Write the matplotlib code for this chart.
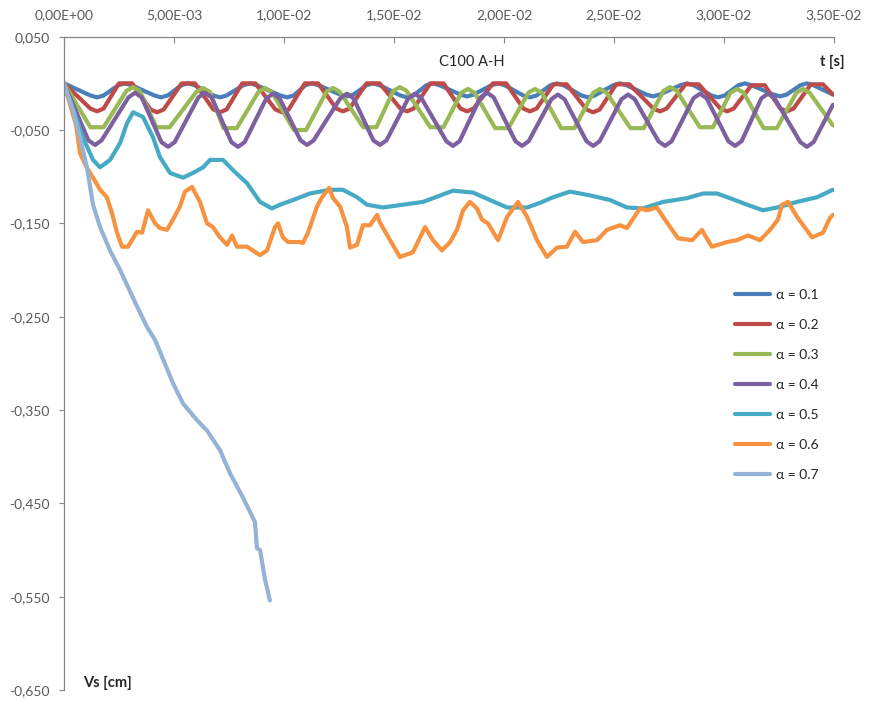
#!/usr/bin/env python3
"""
Settlement history Vs(t) for the C100 A-H case, one curve per alpha value
"""

import numpy as np
import matplotlib
matplotlib.use("Agg")
import matplotlib.pyplot as plt
from matplotlib.ticker import FuncFormatter

# time in ms, settlement in cm
t_01 = [0,
        1.20, 1.50, 1.80, 2.47, 2.77, 3.07, 4.11, 4.41, 4.71, 5.34, 5.64, 5.94,
        6.79, 7.09, 7.39, 8.15, 8.45, 8.75, 9.84, 10.14, 10.44, 10.97, 11.27, 11.57,
        12.56, 12.86, 13.16, 13.75, 14.05, 14.35, 15.29, 15.59, 15.89, 16.47, 16.77, 17.07,
        18.02, 18.32, 18.62, 19.43, 19.73, 20.03, 20.88, 21.18, 21.48, 22.11, 22.41, 22.71,
        23.52, 23.82, 24.12, 24.97, 25.27, 25.57, 26.47, 26.77, 27.07, 28.02, 28.32, 28.62,
        29.43, 29.73, 30.03, 30.65, 30.95, 31.25, 32.25, 32.55, 32.85, 33.47, 33.77, 34.07,
        34.95]
vs_01 = [0,
         -0.013, -0.015, -0.013, -0.002, 0, -0.002, -0.013, -0.015, -0.013, -0.002, 0, -0.002,
         -0.013, -0.015, -0.013, -0.002, 0, -0.002, -0.013, -0.015, -0.013, -0.002, 0, -0.002,
         -0.012, -0.014, -0.012, -0.002, 0, -0.002, -0.013, -0.015, -0.013, -0.002, 0, -0.002,
         -0.012, -0.014, -0.012, -0.002, 0, -0.002, -0.013, -0.015, -0.013, -0.002, 0, -0.002,
         -0.013, -0.015, -0.013, -0.002, 0, -0.002, -0.012, -0.014, -0.012, -0.002, 0, -0.002,
         -0.013, -0.015, -0.013, -0.002, 0, -0.002, -0.012, -0.014, -0.012, -0.002, 0, -0.002,
         -0.012]

t_02 = [0,
        1.20, 1.50, 1.80, 2.50, 3.10,
        3.93, 4.23, 4.53, 5.35, 5.95,
        6.79, 7.09, 7.39, 8.10, 8.70,
        9.61, 9.91, 10.21, 10.95, 11.55,
        12.38, 12.68, 12.98, 13.75, 14.35,
        15.29, 15.59, 15.89, 16.65, 17.25,
        18.02, 18.32, 18.62, 19.50, 20.10,
        20.88, 21.18, 21.48, 22.25, 22.85,
        23.75, 24.05, 24.35, 25.10, 25.70,
        26.79, 27.09, 27.39, 28.25, 28.85,
        29.84, 30.14, 30.44, 31.25, 31.85,
        32.56, 32.86, 33.16, 33.95, 34.50,
        34.95]
vs_02 = [0,
         -0.027, -0.030, -0.027, 0, 0,
         -0.028, -0.031, -0.028, 0, 0,
         -0.028, -0.031, -0.028, 0, 0,
         -0.028, -0.031, -0.028, 0, 0,
         -0.027, -0.030, -0.027, 0, 0,
         -0.027, -0.030, -0.027, 0, 0,
         -0.027, -0.030, -0.027, 0, 0,
         -0.027, -0.030, -0.027, -0.001, -0.001,
         -0.028, -0.031, -0.028, -0.001, -0.001,
         -0.027, -0.030, -0.027, -0.001, -0.001,
         -0.027, -0.030, -0.027, -0.002, -0.002,
         -0.027, -0.030, -0.027, -0.001, -0.001,
         -0.012]

t_03 = [0,
        1.20, 1.80, 2.84, 3.14, 3.44,
        4.20, 4.80, 6.02, 6.32, 6.62,
        7.25, 7.85, 8.84, 9.14, 9.44,
        10.45, 11.00, 11.93, 12.23, 12.53,
        13.60, 14.20, 14.97, 15.27, 15.57,
        16.65, 17.25, 18.06, 18.36, 18.66,
        19.60, 20.20, 21.11, 21.41, 21.71,
        22.60, 23.20, 24.06, 24.36, 24.66,
        25.75, 26.35, 27.25, 27.55, 27.85,
        28.90, 29.50, 30.29, 30.59, 30.89,
        31.80, 32.40, 33.29, 33.59, 33.89,
        34.95]
vs_03 = [0,
         -0.047, -0.047, -0.008, -0.004, -0.008,
         -0.047, -0.047, -0.009, -0.005, -0.009,
         -0.048, -0.048, -0.009, -0.005, -0.009,
         -0.050, -0.050, -0.009, -0.005, -0.009,
         -0.047, -0.047, -0.008, -0.004, -0.008,
         -0.047, -0.047, -0.010, -0.006, -0.010,
         -0.048, -0.048, -0.010, -0.006, -0.010,
         -0.048, -0.048, -0.010, -0.006, -0.010,
         -0.048, -0.048, -0.008, -0.004, -0.008,
         -0.047, -0.047, -0.010, -0.006, -0.010,
         -0.048, -0.048, -0.010, -0.006, -0.010,
         -0.045]

t_04 = [0,
        1.11, 1.41, 1.71, 2.93, 3.23, 3.53,
        4.43, 4.73, 5.03, 6.11, 6.41, 6.71,
        7.61, 7.91, 8.21, 9.20, 9.50, 9.80,
        10.75, 11.05, 11.35, 12.56, 12.86, 13.16,
        14.06, 14.36, 14.66, 15.65, 15.95, 16.25,
        17.38, 17.68, 17.98, 18.93, 19.23, 19.53,
        20.52, 20.82, 21.12, 22.15, 22.45, 22.75,
        23.75, 24.05, 24.35, 25.34, 25.64, 25.94,
        27.02, 27.32, 27.62, 28.61, 28.91, 29.21,
        30.20, 30.50, 30.80, 31.70, 32.00, 32.30,
        33.47, 33.77, 34.07,
        34.95]
vs_04 = [0,
         -0.061, -0.066, -0.061, -0.015, -0.010, -0.015,
         -0.063, -0.068, -0.063, -0.015, -0.010, -0.015,
         -0.063, -0.068, -0.063, -0.016, -0.011, -0.016,
         -0.061, -0.066, -0.061, -0.016, -0.011, -0.016,
         -0.061, -0.066, -0.061, -0.016, -0.011, -0.016,
         -0.062, -0.067, -0.062, -0.015, -0.010, -0.015,
         -0.062, -0.067, -0.062, -0.017, -0.012, -0.017,
         -0.062, -0.067, -0.062, -0.017, -0.012, -0.017,
         -0.062, -0.067, -0.062, -0.016, -0.011, -0.016,
         -0.062, -0.067, -0.062, -0.016, -0.011, -0.016,
         -0.063, -0.068, -0.063,
         -0.023]

t_05 = [0, 0.86, 1.32, 1.64, 2.09, 2.55, 2.86, 3.14, 3.59, 4.05, 4.36, 4.82, 5.41, 5.86, 6.32,
        6.64, 7.23, 7.68, 8.32, 8.91, 9.45, 9.82, 10.41, 11.18, 12.09, 12.68, 13.32, 13.77,
        14.50, 15.41, 16.32, 17.68, 18.59, 19.36, 20.14, 21.05, 21.64, 22.23, 23.00, 23.91,
        24.82, 25.59, 26.32, 27.23, 28.32, 29.05, 29.68, 30.27, 31.05, 31.77, 32.41, 33.32,
        34.23, 34.95]
vs_05 = [0, -0.058, -0.082, -0.090, -0.082, -0.064, -0.043, -0.031, -0.036, -0.058, -0.079, -0.096,
         -0.101, -0.096, -0.090, -0.082, -0.082, -0.093, -0.107, -0.127, -0.134, -0.130, -0.125,
         -0.118, -0.114, -0.114, -0.122, -0.130, -0.133, -0.130, -0.127, -0.115, -0.117, -0.125,
         -0.133, -0.133, -0.128, -0.122, -0.116, -0.120, -0.125, -0.133, -0.134, -0.127, -0.123,
         -0.118, -0.118, -0.123, -0.130, -0.136, -0.133, -0.127, -0.122, -0.114]

t_06 = [0, 0.55, 0.73, 1.05, 1.32, 1.64, 1.95, 2.18, 2.41, 2.64, 2.91, 3.09, 3.32, 3.55, 3.82,
        4.14, 4.36, 4.68, 4.95, 5.27, 5.50, 5.82, 5.95, 6.18, 6.50, 6.77, 7.09, 7.41, 7.64,
        7.86, 8.32, 8.77, 8.91, 9.23, 9.59, 9.73, 9.95, 10.18, 10.73, 10.86, 11.09, 11.50,
        11.73, 12.05, 12.23, 12.55, 12.86, 13.00, 13.32, 13.59, 13.91, 14.23, 14.36, 14.82,
        15.27, 15.86, 16.41, 16.77, 17.18, 17.55, 17.86, 18.14, 18.45, 18.77, 19.00, 19.27,
        19.73, 20.14, 20.64, 21.05, 21.50, 21.95, 22.41, 22.86, 23.23, 23.59, 24.23, 24.68,
        25.27, 25.59, 26.18, 26.50, 26.95, 27.23, 27.64, 27.91, 28.55, 29.00, 29.14, 29.45,
        30.14, 30.59, 31.09, 31.64, 32.09, 32.45, 32.64, 32.91, 33.32, 34.00, 34.50, 34.82, 34.95]
vs_06 = [0, -0.045, -0.075, -0.091, -0.101, -0.114, -0.122, -0.139, -0.160, -0.175, -0.175, -0.168,
         -0.159, -0.160, -0.136, -0.150, -0.155, -0.157, -0.146, -0.132, -0.116, -0.111, -0.117,
         -0.127, -0.150, -0.154, -0.165, -0.173, -0.163, -0.175, -0.175, -0.182, -0.184, -0.179,
         -0.154, -0.150, -0.165, -0.170, -0.170, -0.171, -0.160, -0.132, -0.122, -0.112, -0.123,
         -0.132, -0.154, -0.176, -0.173, -0.152, -0.152, -0.141, -0.149, -0.168, -0.186, -0.181,
         -0.154, -0.168, -0.179, -0.170, -0.157, -0.136, -0.127, -0.134, -0.146, -0.150, -0.168,
         -0.143, -0.127, -0.143, -0.168, -0.186, -0.176, -0.175, -0.159, -0.170, -0.168, -0.157,
         -0.152, -0.155, -0.134, -0.136, -0.133, -0.143, -0.157, -0.166, -0.168, -0.157, -0.163,
         -0.175, -0.170, -0.168, -0.163, -0.168, -0.157, -0.146, -0.130, -0.127, -0.143, -0.165,
         -0.160, -0.144, -0.141]

t_07 = [0, 0.41, 0.73, 1.05, 1.32, 1.64, 2.09, 2.55, 3.14, 3.77, 4.14, 4.95, 5.41, 6.05, 6.50,
        7.09, 7.55, 8.14, 8.68, 8.77, 8.91, 9.14, 9.36]
vs_07 = [0, -0.029, -0.058, -0.091, -0.130, -0.154, -0.179, -0.200, -0.230, -0.261, -0.275, -0.321,
         -0.343, -0.361, -0.372, -0.393, -0.418, -0.444, -0.470, -0.498, -0.500, -0.532, -0.554]

labels = ["α = 0.1", "α = 0.2", "α = 0.3", "α = 0.4", "α = 0.5", "α = 0.6", "α = 0.7"]
colors = ["#4A7EBB", "#BE4B48", "#98B954", "#7D60A0", "#46AAC5", "#F69240", "#95B3D7"]

x_ticks = [0, 0.005, 0.010, 0.015, 0.020, 0.025, 0.030, 0.035]
y_ticks = [0.05, -0.05, -0.15, -0.25, -0.35, -0.45, -0.55, -0.65]

GRAY_TXT = "#595959"
GRAY_AX = "#868686"


def sci_comma(x, pos):
    return f"{x:.2E}".replace(".", ",")


def fixed_comma(y, pos):
    return f"{y:.3f}".replace(".", ",")


def plot_settlements():
    plt.rcParams["font.family"] = ["Lato", "DejaVu Sans"]

    fig = plt.figure(figsize=(8.69, 7.01), dpi=100)
    ax = fig.add_axes([64 / 869, 11 / 701, 770 / 869, 653.3 / 701])

    series = [(t_01, vs_01), (t_02, vs_02), (t_03, vs_03), (t_04, vs_04),
              (t_05, vs_05), (t_06, vs_06), (t_07, vs_07)]
    for (t, vs), lab, col in zip(series, labels, colors):
        ax.plot(np.array(t) * 1e-3, vs, color=col, lw=3.0, label=lab,
                solid_joinstyle="round", solid_capstyle="round")

    ax.set_xlim(0, 0.035)
    ax.set_ylim(-0.65, 0.05)
    ax.set_xticks(x_ticks)
    ax.set_yticks(y_ticks)
    ax.xaxis.set_major_formatter(FuncFormatter(sci_comma))
    ax.yaxis.set_major_formatter(FuncFormatter(fixed_comma))

    # x axis sits on top, ticks pointing into the plot
    ax.xaxis.tick_top()
    ax.tick_params(axis="x", direction="in", length=4.5, width=0.8, color=GRAY_AX,
                   labelsize=10, labelcolor=GRAY_TXT, pad=11)
    ax.tick_params(axis="y", direction="out", length=3.5, width=0.8, color=GRAY_AX,
                   labelsize=10, labelcolor=GRAY_TXT, pad=7)

    for side in ["right", "bottom"]:
        ax.spines[side].set_visible(False)
    for side in ["left", "top"]:
        ax.spines[side].set_color(GRAY_AX)
        ax.spines[side].set_linewidth(0.9)

    fig.text(472 / 869, 1 - 62 / 701, "C100 A-H", ha="center", va="center",
             fontsize=10.5, color="#262626")
    fig.text(845 / 869, 1 - 62 / 701, "t [s]", ha="right", va="center",
             fontsize=10.5, fontweight="bold", color="#262626")
    fig.text(83 / 869, 1 - 683 / 701, "Vs [cm]", ha="left", va="center",
             fontsize=10.5, fontweight="bold", color="#262626")

    ax.legend(loc="upper left", bbox_to_anchor=(735 / 869, 1 - 289 / 701),
              bbox_transform=fig.transFigure, frameon=False, fontsize=10,
              handlelength=2.5, handletextpad=0.45, labelspacing=1.3,
              borderpad=0, borderaxespad=0, labelcolor="#262626")

    fig.savefig("out.png", dpi=100)


def main():
    plot_settlements()


if __name__ == "__main__":
    main()
